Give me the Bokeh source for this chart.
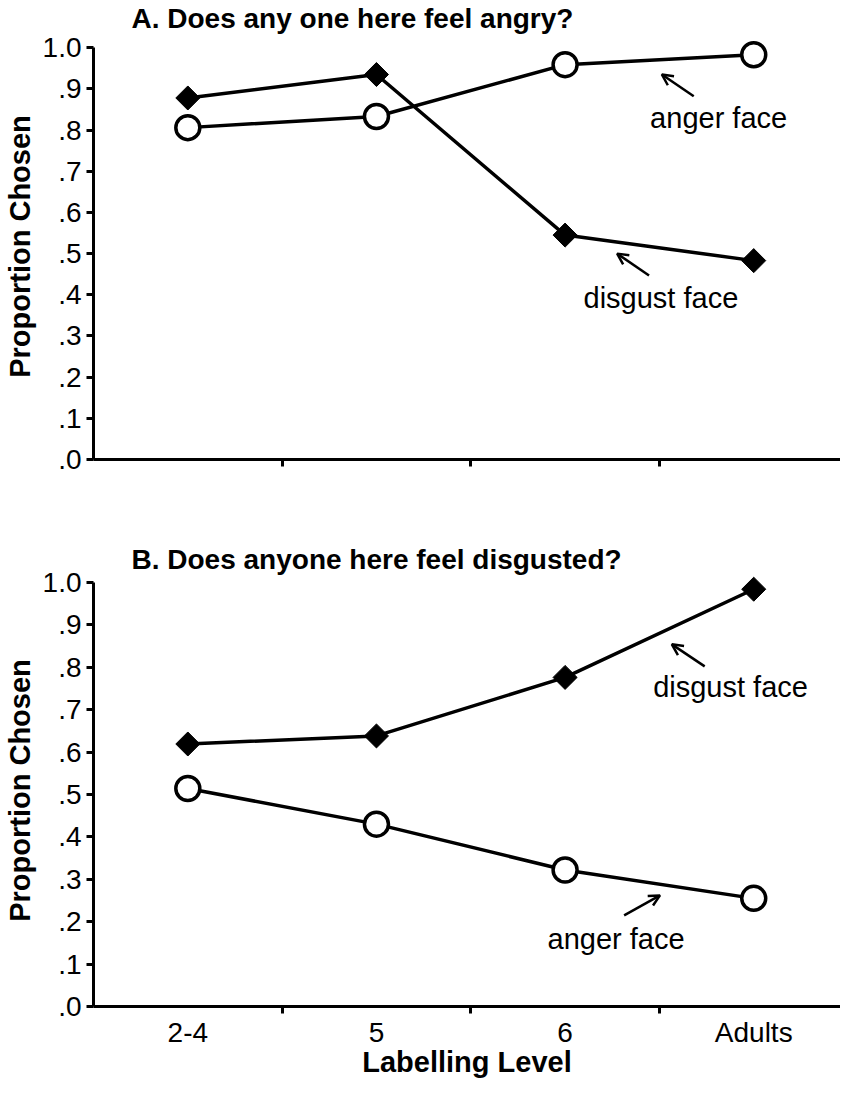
from bokeh.plotting import figure
from bokeh.layouts import column
from bokeh.models import FixedTicker, Label, Arrow, OpenHead, Title
from bokeh.embed import file_html
from bokeh.resources import INLINE

# ---------------- data ----------------
levels = ["2-4", "5", "6", "Adults"]
y_ticks = [0.0, 0.1, 0.2, 0.3, 0.4, 0.5, 0.6, 0.7, 0.8, 0.9, 1.0]
y_tick_labels = [".0", ".1", ".2", ".3", ".4", ".5", ".6", ".7", ".8", ".9", "1.0"]

a_title = "A. Does any one here feel angry?"
a_disgust = [0.878, 0.935, 0.545, 0.483]
a_anger = [0.806, 0.833, 0.959, 0.983]

b_title = "B. Does anyone here feel disgusted?"
b_disgust = [0.619, 0.638, 0.776, 0.984]
b_anger = [0.514, 0.430, 0.322, 0.255]

x_label = "Labelling Level"
y_label = "Proportion Chosen"

# annotation placement (category units, proportion units)
a_anger_note = ("anger face", 2.814, 0.829, (2.682, 0.882), (2.513, 0.935))
a_disgust_note = ("disgust face", 2.508, 0.392, (2.445, 0.447), (2.276, 0.500))
b_disgust_note = ("disgust face", 2.877, 0.753, (2.740, 0.802), (2.566, 0.854))
b_anger_note = ("anger face", 2.270, 0.159, (2.313, 0.215), (2.503, 0.262))

FONT = "Liberation Sans"
idx = list(range(len(levels)))
bounds_minor = [i + 0.5 for i in idx[:-1]]


def make_panel(title, disgust, anger, notes, height, top, bottom, y_end, show_x):
    p = figure(width=840, height=height, output_backend="svg", toolbar_location=None,
               x_range=(-0.5, 3.46), y_range=(0, y_end),
               min_border_left=89, min_border_right=0, min_border_top=top,
               min_border_bottom=bottom)
    p.outline_line_color = None
    p.xgrid.visible = False
    p.ygrid.visible = False
    p.background_fill_color = "white"
    p.border_fill_color = "white"

    t = Title(text=title, align="left", offset=38, standoff=0,
              text_font=FONT, text_font_size="28px", text_font_style="bold",
              text_color="black")
    p.add_layout(t, "above")

    # y axis
    ya = p.yaxis[0]
    ya.ticker = FixedTicker(ticks=y_ticks, minor_ticks=[])
    ya.major_label_overrides = {t_: l for t_, l in zip(y_ticks, y_tick_labels)}
    ya.bounds = (0, 1)
    ya.axis_line_width = 3
    ya.major_tick_line_width = 3
    ya.major_tick_out = 7
    ya.major_tick_in = 0
    ya.major_label_standoff = 5
    ya.major_label_text_font = FONT
    ya.major_label_text_font_size = "28px"
    ya.major_label_text_color = "black"
    ya.axis_label = y_label
    ya.axis_label_text_font = FONT
    ya.axis_label_text_font_size = "29px"
    ya.axis_label_text_font_style = "bold"
    ya.axis_label_text_color = "black"
    ya.axis_label_standoff = 4

    # x axis
    xa = p.xaxis[0]
    if show_x:
        xa.ticker = FixedTicker(ticks=idx, minor_ticks=bounds_minor)
        xa.major_label_overrides = {i: l for i, l in zip(idx, levels)}
        xa.axis_label = x_label
    else:
        xa.ticker = FixedTicker(ticks=[], minor_ticks=bounds_minor)
    xa.axis_line_width = 3
    xa.major_tick_out = 0
    xa.major_tick_in = 0
    xa.minor_tick_out = 7
    xa.minor_tick_in = 0
    xa.minor_tick_line_width = 3
    xa.major_label_standoff = 3
    xa.major_label_text_font = FONT
    xa.major_label_text_font_size = "28px"
    xa.major_label_text_color = "black"
    xa.axis_label_text_font = FONT
    xa.axis_label_text_font_size = "29px"
    xa.axis_label_text_font_style = "bold"
    xa.axis_label_text_color = "black"
    xa.axis_label_standoff = -5

    # series
    p.line(idx, disgust, line_color="black", line_width=3.5)
    p.line(idx, anger, line_color="black", line_width=3.5)
    p.scatter(idx, disgust, marker="square", angle=0.7854, size=17,
              fill_color="black", line_color="black", line_width=1)
    p.scatter(idx, anger, marker="circle", size=24,
              fill_color="white", line_color="black", line_width=3.5)

    for text, tx, ty, (sx, sy), (ex, ey) in notes:
        p.add_layout(Label(x=tx, y=ty, text=text, text_font=FONT, text_font_size="29px",
                           text_align="center", text_baseline="middle", text_color="black"))
        p.add_layout(Arrow(x_start=sx, y_start=sy, x_end=ex, y_end=ey, line_width=2.5,
                           line_color="black",
                           end=OpenHead(size=11, line_width=2.5, line_color="black")))
    return p


pa = make_panel(a_title, a_disgust, a_anger, [a_anger_note, a_disgust_note],
                height=540, top=26, bottom=81, y_end=1.0346, show_x=False)
pb = make_panel(b_title, b_disgust, b_anger, [b_disgust_note, b_anger_note],
                height=540, top=34, bottom=70, y_end=1.0187, show_x=True)

layout = column(pa, pb)
open("out.html", "w").write(file_html(layout, INLINE))
